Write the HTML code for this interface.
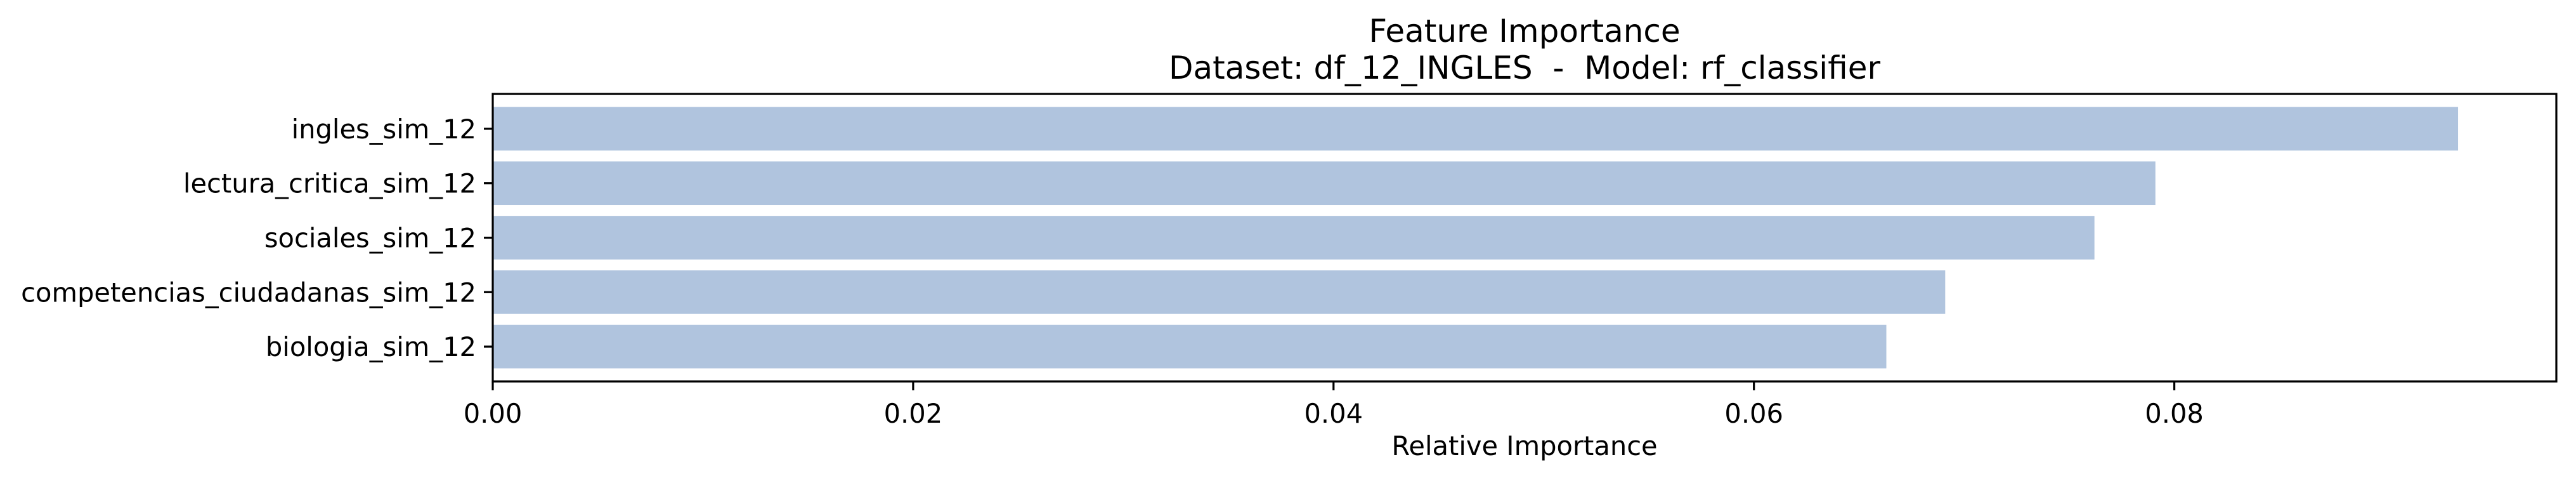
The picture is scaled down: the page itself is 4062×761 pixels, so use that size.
<!DOCTYPE html>
<html><head><meta charset="utf-8"><style>html,body{margin:0;padding:0;background:#fff}svg{display:block}text{white-space:pre}</style></head>
<body>
<svg id="chart" width="4062" height="761" viewBox="0 0 4062 761" xmlns="http://www.w3.org/2000/svg" font-family="'DejaVu Sans','Liberation Sans',sans-serif">
<rect width="4062" height="761" fill="#fff"/>
<text x="2404" y="66" font-size="50" text-anchor="middle">Feature Importance</text>
<text x="2404" y="124" font-size="50" text-anchor="middle" xml:space="preserve">Dataset: df_12_INGLES  -  Model: rf_classifier</text>
<g id="bars"></g>
<g id="yaxis"></g>
<g id="xaxis"></g>
<rect x="777" y="148" width="3254" height="453" fill="none" stroke="#000" stroke-width="3.2"/>
<text x="2404" y="717" font-size="41.6" text-anchor="middle">Relative Importance</text>
</svg>
<script>
const categories = ["ingles_sim_12","lectura_critica_sim_12","sociales_sim_12","competencias_ciudadanas_sim_12","biologia_sim_12"];
const values = [0.0935,0.0791,0.0762,0.0691,0.0663];
const xTicks = [0,0.02,0.04,0.06,0.08];
const xTickLabels = ["0.00","0.02","0.04","0.06","0.08"];

const NS="http://www.w3.org/2000/svg";
const L=777,R=4031,T=148,B=601;
const n=categories.length;
const xmax=Math.max(...values)*1.05;
const x=v=>L+(v/xmax)*(R-L);
const ylo=-0.64,yhi=(n-1)+0.64;
const y=i=>T+((i-ylo)/(yhi-ylo))*(B-T);
const unit=(B-T)/(yhi-ylo);
function mk(tag,attrs){const e=document.createElementNS(NS,tag);for(const k in attrs)e.setAttribute(k,attrs[k]);return e;}
const gb=document.getElementById('bars'),gy=document.getElementById('yaxis'),gx=document.getElementById('xaxis');
categories.forEach((c,i)=>{
  const r=mk('rect',{x:L,y:y(i)-0.4*unit,width:x(values[i])-L,height:0.8*unit,fill:'#b0c4de'});
  
  
  gb.appendChild(r);
  const t=mk('line',{x1:L-14,x2:L,y1:y(i),y2:y(i),stroke:'#000','stroke-width':3.2});
  
  
  gy.appendChild(t);
  const lb=mk('text',{x:L-26,y:y(i)+15,'font-size':41.6,'text-anchor':'end'});
  lb.textContent=c;
  
  
  gy.appendChild(lb);
});
xTicks.forEach((v,i)=>{
  const t=mk('line',{x1:x(v),x2:x(v),y1:B,y2:B+14,stroke:'#000','stroke-width':3.2});
  
  
  gx.appendChild(t);
  const lb=mk('text',{x:x(v),y:666,'font-size':41.6,'text-anchor':'middle'});
  lb.textContent=xTickLabels[i];
  
  
  gx.appendChild(lb);
});
</script>
</body></html>
